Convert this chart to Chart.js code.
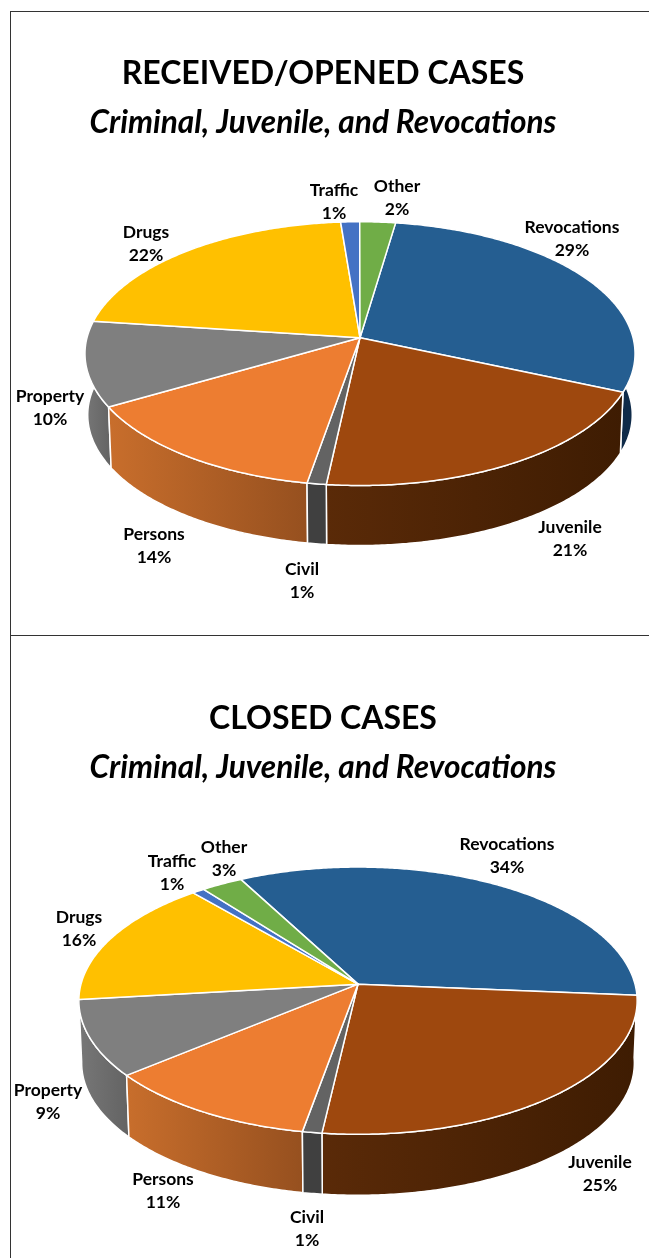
<!DOCTYPE html>
<html><head><meta charset="utf-8">
<style>
html,body{margin:0;padding:0;background:#fff;width:649px;height:1258px;overflow:hidden}
.f{position:absolute;background:#333}
canvas{position:absolute;left:0}
</style>
<script src="https://cdn.jsdelivr.net/npm/chart.js@4/dist/chart.umd.min.js"></script>
</head><body>
<div class="f" style="left:10px;top:11px;width:1px;height:1247px"></div>
<div class="f" style="left:10px;top:11px;width:639px;height:1px"></div>
<div class="f" style="left:10px;top:635px;width:639px;height:1px"></div>
<canvas id="c1" width="649" height="635" style="top:0"></canvas>
<canvas id="c2" width="649" height="623" style="top:635px"></canvas>
<script>
const categories = ['Revocations','Juvenile','Civil','Persons','Property','Drugs','Traffic','Other'];
const receivedValues = [29.2,20.2,1.0,13.9,10.4,21.7,1.25,2.35];
const closedValues = [34.1,25.5,1.0,11.15,9.2,15.55,0.8,2.7];
const receivedPercents = [29,21,1,14,10,22,1,2];
const closedPercents = [34,25,1,11,9,16,1,3];
const topColors = ['#255E91','#9E480E','#636363','#ED7D31','#7F7F7F','#FFC000','#4472C4','#70AD47'];
const wallLeft  = ['#0F2B49','#5A2A08','#404040','#C86E2C','#777777','#806000','#223962','#38572A'];
const wallRight = ['#0F2B49','#3E1C02','#404040','#96501F','#636363','#806000','#223962','#38572A'];
const FONT = 'Lato, Carlito, sans-serif';
const receivedLabelX = [572,570,302,154,50,146,334,397];
const receivedLabelY = [227,527,569,534,396,232,190,186];
const closedLabelX = [507,600,307,163,48,79,172,224];
const closedLabelY = [209,527,582,544,455,282,226,212];

const pie3d = {
  id:'pie3d',
  beforeDatasetDraw(chart,args,o){
    const ctx=chart.ctx, els=chart.getDatasetMeta(0).data;
    const cfg=o;
    const pt=(el,a,s,h)=>{
      const X=el.x+cfg.shiftX, Y=el.y+cfg.shiftY, R=el.outerRadius;
      const u=Math.cos(a), v=Math.sin(a), w=1-cfg.persp*v;
      return [X+R*u/w*s, Y+R*cfg.squash*v/w*s+h];
    };
    const arcPts=(el,s,h)=>{
      const n=Math.max(6,Math.ceil((el.endAngle-el.startAngle)/0.01)), r=[];
      for(let i=0;i<=n;i++) r.push(pt(el,el.startAngle+(el.endAngle-el.startAngle)*i/n,s,h));
      return r;
    };
    // side walls, far ones first
    const order=els.map((e,i)=>i).sort((a,b)=>Math.sin((els[a].startAngle+els[a].endAngle)/2)-Math.sin((els[b].startAngle+els[b].endAngle)/2));
    order.forEach(i=>{
      const el=els[i], a=arcPts(el,1,0), b=arcPts(el,cfg.shrink,cfg.depth).reverse();
      const all=a.concat(b), xs=all.map(p=>p[0]);
      const x0=Math.min(...xs), x1=Math.max(...xs);
      const g=ctx.createLinearGradient(x0,0,x1,0);
      g.addColorStop(0,wallLeft[i]); g.addColorStop(1,wallRight[i]);
      ctx.beginPath(); all.forEach((p,j)=>j?ctx.lineTo(p[0],p[1]):ctx.moveTo(p[0],p[1])); ctx.closePath();
      ctx.fillStyle=g; ctx.fill();
      ctx.strokeStyle=el.options.borderColor; ctx.lineWidth=1.5; ctx.lineJoin='round'; ctx.stroke();
    });
    // top faces
    els.forEach(el=>{
      const a=arcPts(el,1,0);
      ctx.beginPath(); ctx.moveTo(el.x+cfg.shiftX,el.y+cfg.shiftY);
      a.forEach(p=>ctx.lineTo(p[0],p[1])); ctx.closePath();
      ctx.fillStyle=el.options.backgroundColor; ctx.fill();
      ctx.strokeStyle=el.options.borderColor; ctx.lineWidth=el.options.borderWidth; ctx.lineJoin='round'; ctx.stroke();
    });
    return false;
  },
  afterDatasetsDraw(chart,args,o){
    const ctx=chart.ctx;
    ctx.save(); ctx.fillStyle='#000'; ctx.textAlign='center'; ctx.textBaseline='middle';
    ctx.font='bold 17.5px '+FONT;
    chart.data.labels.forEach((l,i)=>{
      ctx.fillText(l,o.labelX[i],o.labelY[i]);
      ctx.fillText(o.percents[i]+'%',o.labelX[i],o.labelY[i]+o.lineGap);
    });
    ctx.restore();
  }
};

function make(id,values,title,titleTop,rotation,radius,padBottom,geo){
  return new Chart(document.getElementById(id),{
    type:'pie',
    data:{labels:categories,datasets:[{data:values,backgroundColor:topColors,borderColor:'#FFFFFF',borderWidth:1.5}]},
    options:{
      responsive:false,animation:false,rotation,radius,
      layout:{padding:{bottom:padBottom,right:3}},
      events:[],
      plugins:{
        legend:{display:false},tooltip:{enabled:false},
        title:{display:true,text:title,color:'#000',font:{family:FONT,size:32,weight:'bold',lineHeight:1.2},padding:{top:titleTop,bottom:0}},
        subtitle:{display:true,text:'Criminal, Juvenile, and Revocations',color:'#000',font:{family:FONT,size:31.6,weight:'bold',style:'italic',lineHeight:1.2},padding:{top:11,bottom:0}},
        pie3d:geo
      }
    },
    plugins:[pie3d]
  });
}
make('c1',receivedValues,'RECEIVED/OPENED CASES',54,8.4,273,101,
  {shiftX:37,shiftY:0,persp:0.121,squash:0.476,shrink:0.99,depth:61.5,labelX:receivedLabelX,labelY:receivedLabelY,lineGap:23,percents:receivedPercents});
make('c2',closedValues,'CLOSED CASES',64,332,277,76,
  {shiftX:35,shiftY:0,persp:0.1236,squash:0.475,shrink:0.99,depth:62.5,labelX:closedLabelX,labelY:closedLabelY,lineGap:23,percents:closedPercents});
</script>
</body></html>
